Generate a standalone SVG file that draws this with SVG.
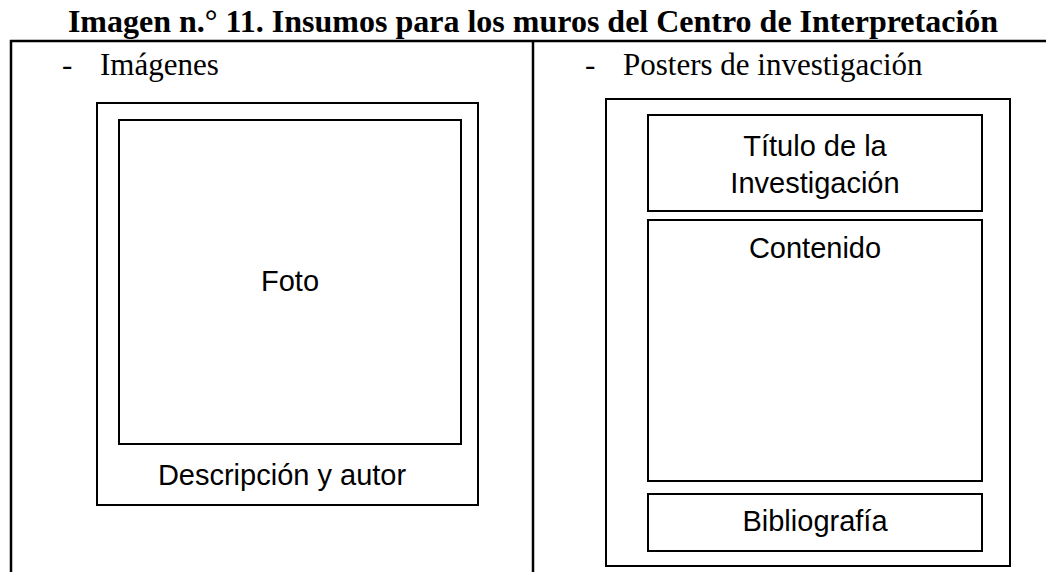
<svg xmlns="http://www.w3.org/2000/svg" width="1046" height="572" viewBox="0 0 1046 572">
<style>
.box{fill:none;stroke:#000;stroke-width:2}
.serif{font-family:"Liberation Serif","Times New Roman",serif;fill:#000}
.sans{font-family:"Liberation Sans",Arial,sans-serif;font-size:29px;fill:#000;text-anchor:middle}
</style>
<rect width="1046" height="572" fill="#fff"/>
<text class="serif" x="533" y="32" font-size="32" font-weight="bold" text-anchor="middle">Imagen n.° 11. Insumos para los muros del Centro de Interpretación</text>
<g id="table" stroke="#000" stroke-width="2.5" fill="none">
<line x1="10" y1="41" x2="1046" y2="41"/>
<line x1="11" y1="40" x2="11" y2="572"/>
<line x1="533" y1="41" x2="533" y2="572"/>
</g>
<g id="col-left-heading">
<text class="serif" x="62" y="75" font-size="31">-</text>
<text class="serif" x="100" y="75" font-size="31">Imágenes</text>
</g>
<g id="col-right-heading">
<text class="serif" x="585" y="75" font-size="31">-</text>
<text class="serif" x="623" y="75" font-size="31">Posters de investigación</text>
</g>
<g id="image-frame">
<path class="box" d="M137 505 H97 V103 H478 V505 H452" stroke="#000"/>
<line x1="137" y1="505" x2="452" y2="505" stroke="#000" stroke-width="2"/>
</g>
<g id="foto">
<rect class="box" x="119" y="120" width="342" height="324"/>
<text class="sans" x="290" y="291">Foto</text>
</g>
<g id="descripcion">
<text class="sans" x="282" y="485">Descripción y autor</text>
</g>
<g id="poster-frame">
<rect class="box" x="606" y="99" width="404" height="467"/>
</g>
<g id="titulo">
<rect class="box" x="648" y="115" width="334" height="96"/>
<text class="sans" x="815" y="156">Título de la</text>
<text class="sans" x="815" y="193">Investigación</text>
</g>
<g id="contenido">
<rect class="box" x="648" y="220" width="334" height="261"/>
<text class="sans" x="815" y="258">Contenido</text>
</g>
<g id="bibliografia">
<rect class="box" x="648" y="494" width="334" height="57"/>
<text class="sans" x="815" y="531">Bibliografía</text>
</g>
<g id="connectors"></g>
</svg>
